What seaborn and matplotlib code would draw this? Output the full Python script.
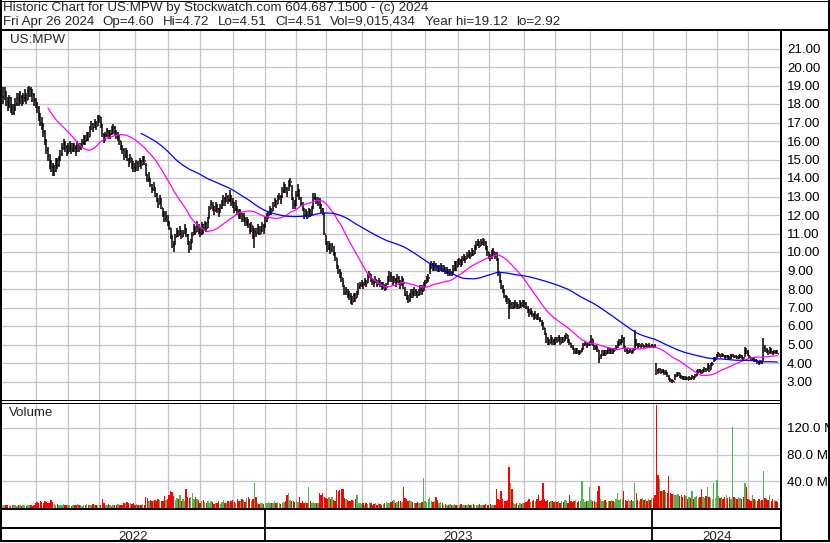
import matplotlib
matplotlib.use("Agg")
import matplotlib.pyplot as plt
import seaborn as sns
import numpy as np
import pandas as pd

# NYSE holidays inside the charted period
holidays = ["2022-05-30", "2022-06-20", "2022-07-04", "2022-09-05", "2022-11-24", "2022-12-26",
            "2023-01-02", "2023-01-16", "2023-02-20", "2023-04-07", "2023-05-29", "2023-06-19",
            "2023-07-04", "2023-09-04", "2023-11-23", "2023-12-25", "2024-01-01", "2024-01-15",
            "2024-02-19", "2024-03-29"]

# daily closes (one line per month)
close_2022 = [
    18.4, 18.6, 18.1, 17.9, 18.3, 17.8, 17.5, 17.7, 18.0, 18.3, 18.2, 18.4, 18.1, 18.3, 18.5, 18.2, 18.6, 18.8, 18.7, 18.5, 18.2,
    18.0, 17.8, 17.4, 17.0, 16.9, 16.5, 16.0, 15.5, 15.2, 14.8, 14.6, 14.3, 14.4, 14.9, 14.7, 15.0, 15.3, 15.6, 15.9, 15.7, 15.5,
    15.6, 15.8, 15.5, 15.7, 15.6, 15.4, 15.8, 15.6, 15.7, 15.9, 16.1, 16.0, 16.3, 16.2, 16.6, 16.9, 16.7, 17.0, 16.8, 17.2,
    17.3, 16.9, 16.4, 16.0, 16.3, 16.5, 16.2, 16.4, 16.6, 16.7, 16.5, 16.2, 16.3, 16.0, 15.7, 15.5, 15.2, 15.4, 15.0, 14.8, 15.1, 14.7, 14.6,
    14.5, 14.8, 14.6, 14.9, 14.7, 15.0, 14.9, 14.2, 13.9, 14.0, 13.6, 13.4, 13.5, 13.1, 12.8, 12.6, 12.9, 12.4, 12.0, 11.8, 11.9,
    11.6, 11.3, 10.9, 10.4, 10.3, 10.8, 11.1, 10.9, 11.2, 10.8, 11.0, 11.3, 10.9, 10.6, 10.2, 10.5, 10.9, 11.3, 11.1, 11.4, 11.2,
    11.0, 11.4, 11.2, 11.5, 11.3, 11.6, 12.3, 12.6, 12.4, 12.2, 12.5, 12.3, 12.1, 12.4, 12.6, 12.9, 12.7, 13.0, 12.8, 13.1, 12.7,
    12.6, 12.3, 12.5, 12.2, 12.0, 12.1, 11.8, 11.9, 11.6, 11.7, 11.5, 11.2, 11.4, 10.8, 11.1, 11.0, 11.3, 11.0, 11.2, 11.4, 11.2,
]
high_2022 = [
    18.9, 18.9, 18.7, 18.4, 18.5, 18.4, 18.0, 18.0, 18.3, 18.6, 18.6, 18.7, 18.5, 18.6, 18.8, 18.6, 18.9, 18.95, 18.9, 18.8, 18.6,
    18.3, 18.1, 17.9, 17.5, 17.3, 17.0, 16.6, 16.1, 15.7, 15.3, 15.0, 14.8, 14.7, 15.1, 15.1, 15.2, 15.5, 15.9, 16.1, 16.0, 15.8,
    15.9, 16.0, 15.9, 15.9, 15.9, 15.8, 16.0, 15.9, 15.9, 16.1, 16.3, 16.3, 16.5, 16.5, 16.8, 17.1, 17.0, 17.2, 17.1, 17.4,
    17.4, 17.3, 16.9, 16.4, 16.5, 16.7, 16.6, 16.6, 16.8, 16.9, 16.8, 16.6, 16.5, 16.3, 16.0, 15.8, 15.6, 15.6, 15.5, 15.1, 15.3, 15.1, 14.9,
    14.8, 15.0, 14.9, 15.1, 15.0, 15.2, 15.2, 14.8, 14.2, 14.3, 14.0, 13.7, 13.8, 13.5, 13.2, 12.9, 13.1, 12.9, 12.4, 12.2, 12.2,
    12.0, 11.7, 11.3, 10.9, 10.6, 11.0, 11.3, 11.2, 11.4, 11.2, 11.2, 11.5, 11.3, 11.0, 10.6, 10.7, 11.1, 11.5, 11.4, 11.7, 11.5,
    11.3, 11.6, 11.5, 11.7, 11.6, 11.9, 12.5, 12.8, 12.7, 12.5, 12.7, 12.6, 12.4, 12.6, 12.8, 13.1, 13.0, 13.2, 13.1, 13.35, 13.1,
    12.9, 12.7, 12.8, 12.5, 12.3, 12.3, 12.1, 12.1, 11.9, 11.9, 11.8, 11.5, 11.6, 11.4, 11.3, 11.3, 11.5, 11.4, 11.4, 11.6, 11.5,
]
low_2022 = [
    18.0, 18.2, 17.9, 17.6, 17.8, 17.5, 17.4, 17.4, 17.6, 17.9, 17.9, 18.0, 17.9, 18.0, 18.1, 18.0, 18.2, 18.4, 18.4, 18.1, 17.9,
    17.8, 17.5, 17.1, 16.8, 16.6, 16.2, 15.8, 15.3, 14.9, 14.5, 14.3, 14.1, 14.1, 14.3, 14.5, 14.6, 14.9, 15.2, 15.5, 15.4, 15.2,
    15.3, 15.4, 15.3, 15.4, 15.4, 15.2, 15.4, 15.4, 15.5, 15.6, 15.8, 15.8, 16.0, 16.0, 16.2, 16.6, 16.5, 16.7, 16.6, 16.8,
    17.0, 16.7, 16.2, 15.9, 16.0, 16.2, 16.1, 16.1, 16.3, 16.4, 16.3, 16.1, 16.0, 15.8, 15.5, 15.3, 15.0, 15.1, 14.9, 14.6, 14.8, 14.5, 14.3,
    14.3, 14.4, 14.4, 14.6, 14.5, 14.7, 14.7, 14.1, 13.8, 13.8, 13.5, 13.2, 13.3, 13.0, 12.7, 12.4, 12.6, 12.3, 11.9, 11.6, 11.6,
    11.4, 11.2, 10.7, 10.2, 10.0, 10.4, 10.8, 10.8, 10.9, 10.7, 10.8, 11.0, 10.8, 10.4, 9.93, 10.1, 10.5, 10.9, 10.9, 11.1, 11.0,
    10.8, 10.9, 11.0, 11.2, 11.1, 11.3, 11.8, 12.3, 12.2, 12.0, 12.2, 12.1, 11.9, 12.1, 12.3, 12.5, 12.5, 12.7, 12.6, 12.7, 12.5,
    12.4, 12.1, 12.2, 12.0, 11.8, 11.8, 11.6, 11.6, 11.4, 11.4, 11.3, 11.0, 11.1, 10.7, 10.2, 10.8, 11.0, 10.9, 11.0, 11.1, 11.0,
]
volume_2022 = [  # millions of shares
    5, 4, 4, 5, 4, 3, 4, 5, 4, 3, 4, 4, 3, 5, 4, 3, 4, 5, 4, 3, 5,
    8, 9, 7, 10, 9, 8, 10, 9, 7, 8, 12, 9, 6, 5, 6, 4, 5, 4, 6, 5, 4,
    5, 4, 3, 4, 5, 4, 6, 5, 4, 3, 5, 4, 6, 5, 4, 5, 6, 4, 5, 4,
    5, 5, 13, 8, 5, 4, 6, 5, 3, 4, 5, 4, 6, 5, 4, 5, 7, 8, 9, 7, 8, 6, 7,
    5, 6, 5, 4, 5, 6, 5, 17, 15, 11, 12, 10, 11, 12, 10, 13, 12, 11, 10, 18, 12,
    14, 20, 26, 24, 18, 12, 15, 13, 20, 11, 14, 10, 28, 16, 15, 17, 22, 14, 16, 13, 12,
    8, 11, 12, 9, 7, 10, 8, 11, 9, 6, 8, 7, 10, 6, 9, 12, 8, 7, 11, 9, 10,
    12, 9, 8, 13, 11, 10, 14, 12, 9, 15, 17, 13, 11, 14, 38, 16, 7, 6, 7, 8, 6,
]

close_2023 = [
    11.7, 11.9, 12.0, 12.3, 12.2, 12.5, 12.7, 12.6, 12.9, 13.0, 12.8, 13.3, 13.6, 13.4, 13.2, 13.7, 13.8, 12.9, 12.6, 12.5,
    13.1, 13.3, 12.9, 12.6, 12.3, 12.0, 12.1, 11.9, 12.2, 12.0, 12.3, 12.9, 13.0, 12.7, 12.8, 12.5, 12.3, 12.2, 11.0,
    10.5, 10.2, 10.4, 10.1, 10.3, 9.9, 9.7, 9.3, 9.0, 8.7, 8.6, 8.3, 7.8, 7.9, 7.7, 7.6, 7.5, 7.3, 7.6, 7.5, 7.7, 8.1, 8.2,
    8.3, 8.2, 8.4, 8.3, 8.6, 8.8, 8.5, 8.4, 8.3, 8.5, 8.2, 8.4, 8.3, 8.1, 8.2, 8.0, 8.1, 8.5, 8.7,
    8.6, 8.4, 8.5, 8.3, 8.6, 8.4, 8.2, 8.5, 8.3, 7.7, 7.6, 7.4, 7.6, 7.8, 7.7, 7.9, 7.8, 7.7, 7.8, 8.0, 7.9, 8.1,
    8.3, 8.5, 8.6, 9.2, 9.3, 9.1, 9.3, 9.2, 9.0, 9.1, 9.2, 9.0, 9.1, 8.9, 9.0, 8.8, 8.9, 8.8, 9.1, 9.3, 9.2,
    9.4, 9.5, 9.3, 9.6, 9.7, 9.6, 9.8, 9.9, 9.8, 10.0, 9.9, 10.2, 10.4, 10.5, 10.3, 10.5, 10.6, 10.5, 10.3, 10.0,
    9.8, 9.7, 9.9, 10.0, 9.8, 9.6, 8.9, 8.4, 8.1, 7.9, 7.6, 7.5, 7.4, 7.1, 7.2, 7.0, 7.1, 7.2, 7.1, 7.0, 7.2, 7.1, 7.3,
    7.2, 7.0, 6.9, 6.7, 6.8, 6.6, 6.5, 6.6, 6.4, 6.35, 6.3, 6.1, 5.9, 5.6, 5.3, 5.2, 5.1, 5.3, 5.2, 5.1,
    5.3, 5.2, 5.4, 5.1, 5.3, 5.2, 5.4, 5.5, 5.2, 5.1, 4.9, 4.8, 4.6, 4.7, 4.6, 4.5, 4.6, 4.7, 5.0, 5.1, 4.9, 5.0,
    5.1, 5.3, 5.0, 4.8, 4.9, 4.7, 4.2, 4.4, 4.5, 4.6, 4.5, 4.6, 4.7, 4.6, 4.7, 4.6, 4.7, 4.8, 5.0, 5.1, 5.2,
    5.3, 4.9, 4.7, 4.6, 4.6, 4.7, 4.6, 4.7, 5.2, 5.0, 4.9, 5.0, 4.9, 5.0, 4.9, 5.0, 4.9, 5.0, 4.9, 4.95,
]
high_2023 = [
    11.9, 12.1, 12.2, 12.5, 12.4, 12.7, 12.9, 12.8, 13.1, 13.2, 13.1, 13.5, 13.8, 13.7, 13.5, 13.9, 14.0, 13.6, 13.0, 12.8,
    13.3, 13.7, 13.4, 13.0, 12.7, 12.4, 12.3, 12.2, 12.4, 12.3, 12.5, 13.2, 13.2, 13.0, 13.0, 12.9, 12.6, 12.4, 12.1,
    10.9, 10.6, 10.6, 10.5, 10.5, 10.3, 10.0, 9.7, 9.3, 9.1, 8.9, 8.6, 8.2, 8.1, 8.0, 7.9, 7.8, 7.6, 7.8, 7.8, 7.9, 8.3, 8.4,
    8.5, 8.4, 8.6, 8.5, 8.8, 9.0, 8.8, 8.6, 8.5, 8.7, 8.5, 8.6, 8.5, 8.4, 8.4, 8.2, 8.3, 8.7, 9.0,
    8.9, 8.7, 8.7, 8.6, 8.8, 8.7, 8.5, 8.7, 8.6, 8.1, 7.9, 7.7, 7.8, 8.0, 8.0, 8.1, 8.0, 7.9, 8.0, 8.2, 8.2, 8.4,
    8.5, 8.7, 8.8, 9.4, 9.5, 9.4, 9.5, 9.4, 9.3, 9.3, 9.4, 9.3, 9.3, 9.2, 9.2, 9.1, 9.1, 9.0, 9.3, 9.5, 9.5,
    9.6, 9.7, 9.6, 9.8, 9.9, 9.8, 10.0, 10.1, 10.0, 10.2, 10.1, 10.4, 10.6, 10.7, 10.6, 10.7, 10.74, 10.7, 10.6, 10.3,
    10.0, 9.9, 10.1, 10.2, 10.0, 10.0, 9.7, 8.9, 8.5, 8.2, 8.0, 7.7, 7.6, 7.5, 7.4, 7.3, 7.3, 7.4, 7.3, 7.2, 7.4, 7.3, 7.4,
    7.4, 7.3, 7.1, 6.9, 7.0, 6.8, 6.7, 6.8, 6.6, 6.7, 6.5, 6.3, 6.2, 5.9, 5.6, 5.4, 5.3, 5.5, 5.4, 5.3,
    5.4, 5.4, 5.5, 5.4, 5.4, 5.4, 5.5, 5.6, 5.5, 5.3, 5.1, 5.0, 4.8, 4.8, 4.8, 4.7, 4.7, 4.8, 5.1, 5.2, 5.1, 5.1,
    5.2, 5.5, 5.3, 5.0, 5.0, 4.9, 4.7, 4.5, 4.7, 4.7, 4.7, 4.7, 4.8, 4.8, 4.8, 4.8, 4.8, 5.0, 5.2, 5.3, 5.3,
    5.5, 5.4, 4.9, 4.8, 4.7, 4.8, 4.7, 4.8, 5.8, 5.3, 5.1, 5.1, 5.0, 5.1, 5.0, 5.1, 5.05, 5.1, 5.0, 5.05,
]
low_2023 = [
    11.3, 11.6, 11.8, 12.0, 12.0, 12.2, 12.5, 12.4, 12.6, 12.8, 12.6, 12.9, 13.2, 13.2, 13.0, 13.3, 13.5, 12.8, 12.3, 12.3,
    12.5, 13.0, 12.8, 12.5, 12.2, 11.8, 11.9, 11.8, 11.9, 11.9, 12.0, 12.3, 12.8, 12.6, 12.5, 12.3, 12.1, 12.0, 10.9,
    10.4, 10.0, 10.1, 9.9, 10.0, 9.8, 9.5, 9.1, 8.8, 8.6, 8.4, 8.1, 7.7, 7.7, 7.5, 7.4, 7.2, 7.13, 7.3, 7.3, 7.5, 7.7, 8.0,
    8.1, 8.0, 8.2, 8.1, 8.3, 8.6, 8.4, 8.2, 8.1, 8.3, 8.1, 8.2, 8.1, 7.95, 8.0, 7.9, 7.95, 8.2, 8.4,
    8.4, 8.2, 8.3, 8.1, 8.3, 8.2, 8.0, 8.2, 8.0, 7.6, 7.4, 7.23, 7.3, 7.5, 7.5, 7.6, 7.6, 7.5, 7.6, 7.7, 7.7, 7.9,
    8.1, 8.3, 8.4, 8.8, 9.1, 9.0, 9.0, 9.0, 8.9, 8.9, 9.0, 8.9, 8.9, 8.8, 8.8, 8.7, 8.7, 8.7, 8.8, 9.0, 9.0,
    9.2, 9.3, 9.2, 9.3, 9.5, 9.4, 9.6, 9.7, 9.6, 9.8, 9.8, 9.9, 10.1, 10.3, 10.2, 10.3, 10.4, 10.3, 10.1, 9.8,
    9.6, 9.5, 9.6, 9.8, 9.6, 9.5, 8.7, 8.3, 8.0, 7.8, 7.5, 7.3, 7.2, 6.4, 6.9, 6.9, 6.9, 7.0, 6.9, 6.9, 7.0, 7.0, 7.1,
    7.0, 6.9, 6.7, 6.5, 6.6, 6.5, 6.3, 6.4, 6.3, 6.3, 6.2, 6.0, 5.8, 5.5, 5.1, 5.0, 5.0, 5.1, 5.0, 5.0,
    5.0, 5.1, 5.2, 5.0, 5.1, 5.1, 5.2, 5.3, 5.1, 5.0, 4.8, 4.7, 4.5, 4.5, 4.5, 4.45, 4.5, 4.6, 4.7, 4.9, 4.8, 4.9,
    4.9, 5.0, 4.9, 4.7, 4.7, 4.6, 4.02, 4.2, 4.4, 4.4, 4.4, 4.5, 4.5, 4.5, 4.5, 4.5, 4.6, 4.7, 4.8, 4.9, 5.0,
    5.1, 4.8, 4.6, 4.5, 4.5, 4.55, 4.5, 4.55, 4.7, 4.9, 4.8, 4.85, 4.8, 4.85, 4.8, 4.85, 4.8, 4.85, 4.8, 4.85,
]
volume_2023 = [
    8, 7, 9, 8, 7, 8, 10, 7, 9, 8, 6, 8, 9, 10, 20, 22, 12, 10, 11, 9,
    10, 9, 16, 8, 10, 7, 9, 8, 31, 10, 8, 9, 7, 8, 8, 22, 20, 22, 17,
    15, 14, 17, 13, 16, 12, 10, 27, 25, 27, 29, 28, 15, 14, 12, 11, 10, 12, 11, 14, 20, 8, 7,
    6, 8, 5, 7, 6, 9, 7, 5, 6, 8, 5, 7, 6, 5, 6, 8, 9, 7, 8,
    9, 10, 12, 8, 9, 11, 10, 9, 32, 15, 13, 11, 12, 10, 9, 8, 7, 9, 8, 7, 9, 45,
    10, 9, 13, 16, 11, 9, 10, 16, 12, 8, 9, 7, 5, 6, 4, 5, 6, 5, 4, 6, 5,
    5, 4, 6, 5, 4, 5, 5, 6, 4, 5, 6, 5, 4, 5, 6, 5, 4, 5, 6, 4,
    5, 6, 4, 5, 5, 29, 14, 12, 25, 13, 11, 10, 12, 62, 38, 28, 7, 6, 8, 5, 7, 6, 8,
    8, 9, 10, 14, 9, 11, 12, 10, 13, 20, 11, 12, 37, 14, 10, 12, 9, 10, 11, 9,
    10, 9, 11, 8, 10, 9, 12, 10, 8, 19, 11, 9, 10, 12, 9, 11, 10, 40, 13, 9, 10, 11,
    32, 12, 10, 11, 9, 25, 33, 14, 11, 10, 12, 9, 11, 10, 12, 11, 9, 13, 22, 12, 13,
    14, 25, 12, 11, 13, 10, 12, 11, 37, 23, 12, 11, 13, 15, 12, 14, 11, 13, 12, 15,
]

close_2024 = [
    4.9, 4.85, 3.6, 3.5, 3.65, 3.5, 3.6, 3.45, 3.5, 3.3, 3.2, 3.05, 3.0, 3.0, 3.3, 3.4, 3.45, 3.3, 3.25, 3.2, 3.15,
    3.2, 3.1, 3.2, 3.15, 3.25, 3.2, 3.3, 3.5, 3.6, 3.5, 3.45, 3.55, 3.7, 3.6, 3.9, 3.6, 3.95, 3.95, 4.2, 4.2,
    4.40, 4.50, 4.35, 4.45, 4.40, 4.30, 4.38, 4.32, 4.25, 4.40, 4.45, 4.30, 4.35, 4.28, 4.33, 4.40, 4.30, 4.25, 4.75, 4.60,
    4.45, 4.30, 4.20, 4.25, 4.10, 4.15, 4.05, 4.00, 4.10, 4.02, 4.80, 4.70, 4.65, 4.55, 4.75, 4.60, 4.55, 4.62, 4.60, 4.51,
]
high_2024 = [
    5.0, 5.05, 4.0, 3.7, 3.75, 3.7, 3.7, 3.6, 3.6, 3.5, 3.35, 3.2, 3.15, 3.1, 3.4, 3.5, 3.53, 3.45, 3.35, 3.3, 3.3,
    3.3, 3.25, 3.3, 3.25, 3.35, 3.3, 3.4, 3.6, 3.7, 3.65, 3.6, 3.65, 3.8, 3.75, 3.98, 3.9, 4.0, 4.05, 4.3, 4.34,
    4.5, 4.6, 4.5, 4.55, 4.5, 4.45, 4.45, 4.42, 4.4, 4.48, 4.5, 4.45, 4.45, 4.4, 4.42, 4.48, 4.42, 4.35, 4.85, 4.8,
    4.7, 4.45, 4.35, 4.35, 4.25, 4.22, 4.16, 4.1, 4.15, 4.12, 5.33, 4.97, 4.8, 4.7, 4.85, 4.8, 4.65, 4.7, 4.68, 4.72,
]
low_2024 = [
    4.8, 4.8, 3.35, 3.4, 3.45, 3.4, 3.45, 3.35, 3.35, 3.25, 3.1, 2.95, 2.92, 2.95, 3.1, 3.25, 3.3, 3.2, 3.15, 3.1, 3.08,
    3.1, 3.08, 3.1, 3.1, 3.15, 3.1, 3.2, 3.3, 3.45, 3.45, 3.4, 3.45, 3.5, 3.5, 3.6, 3.5, 3.6, 3.85, 4.07, 4.1,
    4.25, 4.35, 4.3, 4.32, 4.3, 4.22, 4.25, 4.22, 4.16, 4.22, 4.3, 4.25, 4.25, 4.2, 4.22, 4.28, 4.22, 4.16, 4.3, 4.5,
    4.4, 4.25, 4.1, 4.15, 4.07, 4.05, 3.95, 3.9, 3.95, 3.92, 4.1, 4.6, 4.55, 4.45, 4.55, 4.5, 4.45, 4.5, 4.5, 4.51,
]
volume_2024 = [
    15, 20, 155, 50, 43, 26, 25, 27, 24, 22, 48, 23, 21, 23, 20, 19, 21, 18, 20, 17, 19,
    18, 14, 16, 15, 25, 14, 16, 18, 15, 17, 28, 16, 15, 18, 32, 17, 15, 14, 38, 15,
    42, 18, 15, 17, 14, 16, 19, 15, 17, 14, 121, 16, 15, 14, 17, 15, 13, 16, 38, 32,
    14, 12, 11, 20, 13, 12, 11, 14, 10, 12, 55, 15, 13, 12, 20, 11, 13, 12, 10, 9.0,
]

price_ticks = list(range(3, 22))
volume_ticks = [40, 80, 120]
header_1 = "Historic Chart for US:MPW by Stockwatch.com 604.687.1500 - (c) 2024"
header_2 = ["Fri Apr 26 2024", "Op=4.60", "Hi=4.72", "Lo=4.51", "Cl=4.51",
            "Vol=9,015,434", "Year hi=19.12", "lo=2.92"]

dates = pd.bdate_range("2022-05-02", "2024-04-26", freq="C", holidays=holidays)
close = np.array(close_2022 + close_2023 + close_2024)
high = np.array(high_2022 + high_2023 + high_2024)
low = np.array(low_2022 + low_2023 + low_2024)
volume = np.array(volume_2022 + volume_2023 + volume_2024, dtype=float)
assert len(dates) == len(close) == len(high) == len(low) == len(volume)

df = pd.DataFrame({"date": dates, "close": close, "high": high, "low": low, "volume": volume})
df["i"] = np.arange(len(df))
df["ma_short"] = df["close"].rolling(30).mean()
df["ma_long"] = df["close"].rolling(90).mean()
chg = np.sign(df["close"].diff().fillna(0))
vol_colors = np.where(chg > 0, "#4cb84c", np.where(chg < 0, "#ff0000", "#a8a8a8"))

months = dates.to_period("M")
month_starts = np.where(months[1:] != months[:-1])[0] + 1
years = dates.year
year_starts = np.where(years[1:] != years[:-1])[0] + 1

sns.set_style("white")
plt.rcParams["font.family"] = ["Liberation Sans", "DejaVu Sans"]
FS = 9.6
GRID = "#c4c4c4"

W, H = 830, 543
fig = plt.figure(figsize=(W / 100, H / 100), dpi=100)


def box(l, t, r, b):
    return [l / W, 1 - b / H, (r - l) / W, (b - t) / H]


XLIM = (-0.64, 501.3)

# price panel
ax = fig.add_axes(box(2, 30, 781, 400))
ax.set_xlim(*XLIM)
ax.set_ylim(2, 22)
ax.set_xticks(month_starts)
ax.set_yticks(price_ticks)
ax.set_yticklabels([f"{v:.2f}" for v in price_ticks])
ax.yaxis.tick_right()
ax.tick_params(axis="y", length=0, pad=4.3, labelsize=FS, labelcolor="black")
ax.tick_params(axis="x", length=0, labelbottom=False)
ax.grid(True, color=GRID, lw=0.9)
ax.set_axisbelow(True)
for s in ax.spines.values():
    s.set_visible(False)
ax.hlines(df["close"], df["i"] + 0.3, df["i"] + 0.95, colors="#ff0000", lw=1.4, zorder=2.5)
ax.vlines(df["i"], df["low"], df["high"], colors="black", lw=1.1, zorder=3)
sns.lineplot(data=df, x="i", y="ma_short", ax=ax, color="#ff00ff", lw=0.9, zorder=4)
sns.lineplot(data=df, x="i", y="ma_long", ax=ax, color="#0000ff", lw=0.9, zorder=4)
ax.set_xlabel("")
ax.set_ylabel("")

# volume panel
axv = fig.add_axes(box(2, 402, 781, 508))
axv.set_xlim(*XLIM)
axv.set_ylim(0, 159)
axv.set_xticks(month_starts)
axv.set_yticks(volume_ticks)
axv.set_yticklabels([f"{v:.1f} M" for v in volume_ticks])
axv.yaxis.tick_right()
axv.tick_params(axis="y", length=0, pad=4.3, labelsize=FS, labelcolor="black")
axv.tick_params(axis="x", length=0, labelbottom=False)
axv.grid(True, color=GRID, lw=0.9)
axv.set_axisbelow(True)
for s in axv.spines.values():
    s.set_visible(False)
axv.bar(df["i"], df["volume"], width=0.9, color=vol_colors, linewidth=0, zorder=3)

# year strip
axd = fig.add_axes(box(2, 509, 781, 541))
axd.set_xlim(*XLIM)
axd.set_ylim(0, 1)
axd.axis("off")
bounds = [XLIM[0]] + [s - 0.5 for s in year_starts] + [XLIM[1]]
for b in bounds[1:-1]:
    axd.axvline(b, color="black", lw=1.3)
for k, yr in enumerate(sorted(set(years))):
    axd.text((bounds[k] + bounds[k + 1]) / 2, 0.13, str(yr), ha="center", va="center", fontsize=FS)

# frame lines and texts in pixel space
ov = fig.add_axes([0, 0, 1, 1], facecolor="none")
ov.set_xlim(0, W)
ov.set_ylim(H, 0)
ov.axis("off")
px = 0.72
frame = [
    ((0, W), (0.5, 0.5), 1), ((1, 1), (0, 541), 2), ((829, 829), (0, 541), 2),
    ((0, W), (30, 30), 2), ((781, 781), (30, 541), 2),
    ((0, 781), (400, 400), 1), ((0, 781), (402.5, 402.5), 1),
    ((0, 781), (509, 509), 2), ((0, 781), (527.5, 527.5), 2), ((0, W), (541, 541), 2),
]
for xs, ys, w in frame:
    ov.plot(xs, ys, color="black", lw=w * px, solid_capstyle="butt")

ov.text(3, 8, header_1, ha="left", va="center", fontsize=FS)
ov.text(10, 40, "US:MPW", ha="left", va="center", fontsize=FS)
ov.text(9, 413, "Volume", ha="left", va="center", fontsize=FS)

# second header line: items spread so the line spans the same width as the original
renderer = fig.canvas.get_renderer()
items = [ov.text(0, 22, s, ha="left", va="center", fontsize=FS) for s in header_2]
widths = [t.get_window_extent(renderer).width for t in items]
gap = (560 - 3 - sum(widths)) / (len(items) - 1)
x = 3
for t, w in zip(items, widths):
    t.set_x(x)
    x += w + gap

fig.savefig("out.png", dpi=100)
